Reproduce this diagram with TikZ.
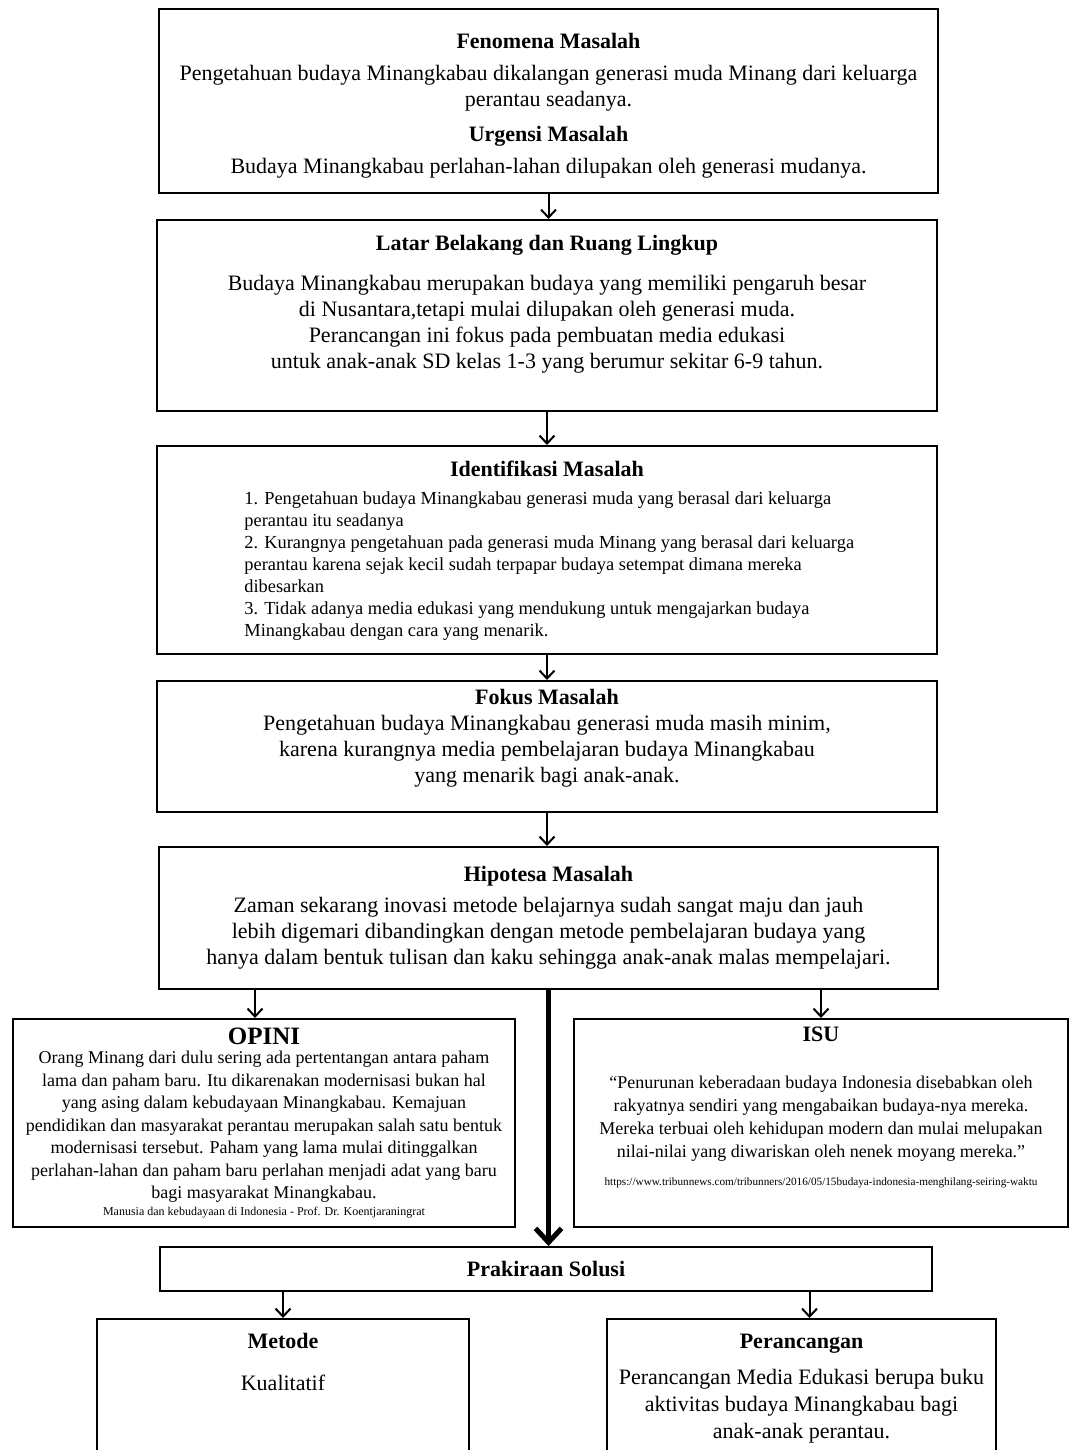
\documentclass[tikz,border=0pt]{standalone}
\usepackage{fontspec}
\setmainfont{Liberation Serif}
\usetikzlibrary{positioning,arrows.meta}

\begin{document}
\begin{tikzpicture}[x=0.5pt,y=-0.5pt,
  kotak/.style={draw,line width=1pt,inner sep=0pt},
  teks/.style={align=center,inner sep=0pt,anchor=north,font=\fontsize{11}{13}\selectfont},
  tekskecil/.style={align=center,inner sep=0pt,anchor=north,font=\fontsize{9}{11.5}\selectfont},
  panah/.style={-{Straight Barb[length=4pt,width=7.5pt]},line width=1pt},
  panahbesar/.style={-{Straight Barb[length=7pt,width=13pt]},line width=2.5pt}]
  \clip (0,0) rectangle (1072,1450);
  \node[kotak,minimum width=389.5pt,minimum height=92pt] (fenomena) at (548.5,101) {};
  \node[kotak,minimum width=390pt,minimum height=95.5pt] (latar) at (547,315.5) {};
  \node[kotak,minimum width=390pt,minimum height=104pt] (identifikasi) at (547,550) {};
  \node[kotak,minimum width=390pt,minimum height=65.5pt] (fokus) at (547,746.5) {};
  \node[kotak,minimum width=389.5pt,minimum height=71pt] (hipotesa) at (548.5,918) {};
  \node[kotak,minimum width=251pt,minimum height=104pt] (opini) at (264,1123) {};
  \node[kotak,minimum width=247pt,minimum height=104pt] (isu) at (821,1123) {};
  \node[kotak,minimum width=386pt,minimum height=22pt,font=\fontsize{11}{13}\selectfont\bfseries]
    (prakiraan) at (546,1269) {Prakiraan Solusi};
  \node[kotak,minimum width=186pt,minimum height=75.5pt] (metode) at (283,1394.5) {};
  \node[kotak,minimum width=194.5pt,minimum height=75.5pt] (perancangan) at (801.5,1394.5) {};

  \node[teks] (fenomena-isi) at (548.5,33) {\textbf{Fenomena Masalah}\\[3pt]
    Pengetahuan budaya Minangkabau dikalangan generasi muda Minang dari keluarga\\
    perantau seadanya.\\[4.5pt]
    \textbf{Urgensi Masalah}\\[3pt]
    Budaya Minangkabau perlahan-lahan dilupakan oleh generasi mudanya.};
  \node[teks] (latar-isi) at (547,235) {\textbf{Latar Belakang dan Ruang Lingkup}\\[7pt]
    Budaya Minangkabau merupakan budaya yang memiliki pengaruh besar\\
    di Nusantara,tetapi mulai dilupakan oleh generasi muda.\\
    Perancangan ini fokus pada pembuatan media edukasi\\
    untuk anak-anak SD kelas 1-3 yang berumur sekitar 6-9 tahun.};
  \node[teks,font=\fontsize{11}{13}\selectfont\bfseries] (identifikasi-judul) at (547,461) {Identifikasi Masalah};
  \node[tekskecil,align=left,anchor=north west,font=\fontsize{9.2}{11}\selectfont]
    (identifikasi-isi) at (244,491) {1. Pengetahuan budaya Minangkabau generasi muda yang berasal dari keluarga\\
    perantau itu seadanya\\
    2. Kurangnya pengetahuan pada generasi muda Minang yang berasal dari keluarga\\
    perantau karena sejak kecil sudah terpapar budaya setempat dimana mereka\\
    dibesarkan\\
    3. Tidak adanya media edukasi yang mendukung untuk mengajarkan budaya\\
    Minangkabau dengan cara yang menarik.};
  \node[teks] (fokus-isi) at (547,689) {\textbf{Fokus Masalah}\\
    Pengetahuan budaya Minangkabau generasi muda masih minim,\\
    karena kurangnya media pembelajaran budaya Minangkabau\\
    yang menarik bagi anak-anak.};
  \node[teks] (hipotesa-isi) at (548.5,866) {\textbf{Hipotesa Masalah}\\[2.5pt]
    Zaman sekarang inovasi metode belajarnya sudah sangat maju dan jauh\\
    lebih digemari dibandingkan dengan metode pembelajaran budaya yang\\
    hanya dalam bentuk tulisan dan kaku sehingga anak-anak malas mempelajari.};

  \node[teks,font=\fontsize{12.5}{15}\selectfont\bfseries] (opini-judul) at (264,1028) {OPINI};
  \node[tekskecil,font=\fontsize{9}{11.25}\selectfont] (opini-isi) at (264,1051)
    {Orang Minang dari dulu sering ada pertentangan antara paham\\
    lama dan paham baru. Itu dikarenakan modernisasi bukan hal\\
    yang asing dalam kebudayaan Minangkabau. Kemajuan\\
    pendidikan dan masyarakat perantau merupakan salah satu bentuk\\
    modernisasi tersebut. Paham yang lama mulai ditinggalkan\\
    perlahan-lahan dan paham baru perlahan menjadi adat yang baru\\
    bagi masyarakat Minangkabau.};
  \node[teks,font=\fontsize{6}{7}\selectfont] (opini-sumber) at (264,1207)
    {Manusia dan kebudayaan di Indonesia - Prof. Dr. Koentjaraningrat};

  \node[teks,font=\fontsize{11}{13}\selectfont\bfseries] (isu-judul) at (821,1027) {ISU};
  \node[tekskecil] (isu-isi) at (821,1076)
    {“Penurunan keberadaan budaya Indonesia disebabkan oleh\\
    rakyatnya sendiri yang mengabaikan budaya-nya mereka.\\
    Mereka terbuai oleh kehidupan modern dan mulai melupakan\\
    nilai-nilai yang diwariskan oleh nenek moyang mereka.”};
  \node[teks,font=\fontsize{5.6}{7}\selectfont] (isu-sumber) at (821,1177)
    {https://www.tribunnews.com/tribunners/2016/05/15budaya-indonesia-menghilang-seiring-waktu};

  \node[teks] (metode-isi) at (283,1333) {\textbf{Metode}\\[8pt] Kualitatif};
  \node[teks,font=\fontsize{11}{13.5}\selectfont] (perancangan-isi) at (801.5,1334) {\textbf{Perancangan}\\[4.5pt]
    Perancangan Media Edukasi berupa buku\\
    aktivitas budaya Minangkabau bagi\\
    anak-anak perantau.};

  \draw[panah] (fenomena.south) -- (fenomena.south |- latar.north);
  \draw[panah] (latar.south) -- (latar.south |- identifikasi.north);
  \draw[panah] (identifikasi.south) -- (identifikasi.south |- fokus.north);
  \draw[panah] (fokus.south) -- (fokus.south |- hipotesa.north);
  \draw[panah] ([xshift=-4.5pt]opini.north |- hipotesa.south) -- ([xshift=-4.5pt]opini.north);
  \draw[panah] (isu.north |- hipotesa.south) -- (isu.north);
  \draw[panahbesar] (hipotesa.south) -- (hipotesa.south |- prakiraan.north);
  \draw[panah] (metode.north |- prakiraan.south) -- (metode.north);
  \draw[panah] ([xshift=4pt]perancangan.north |- prakiraan.south) -- ([xshift=4pt]perancangan.north);
\end{tikzpicture}
\end{document}
